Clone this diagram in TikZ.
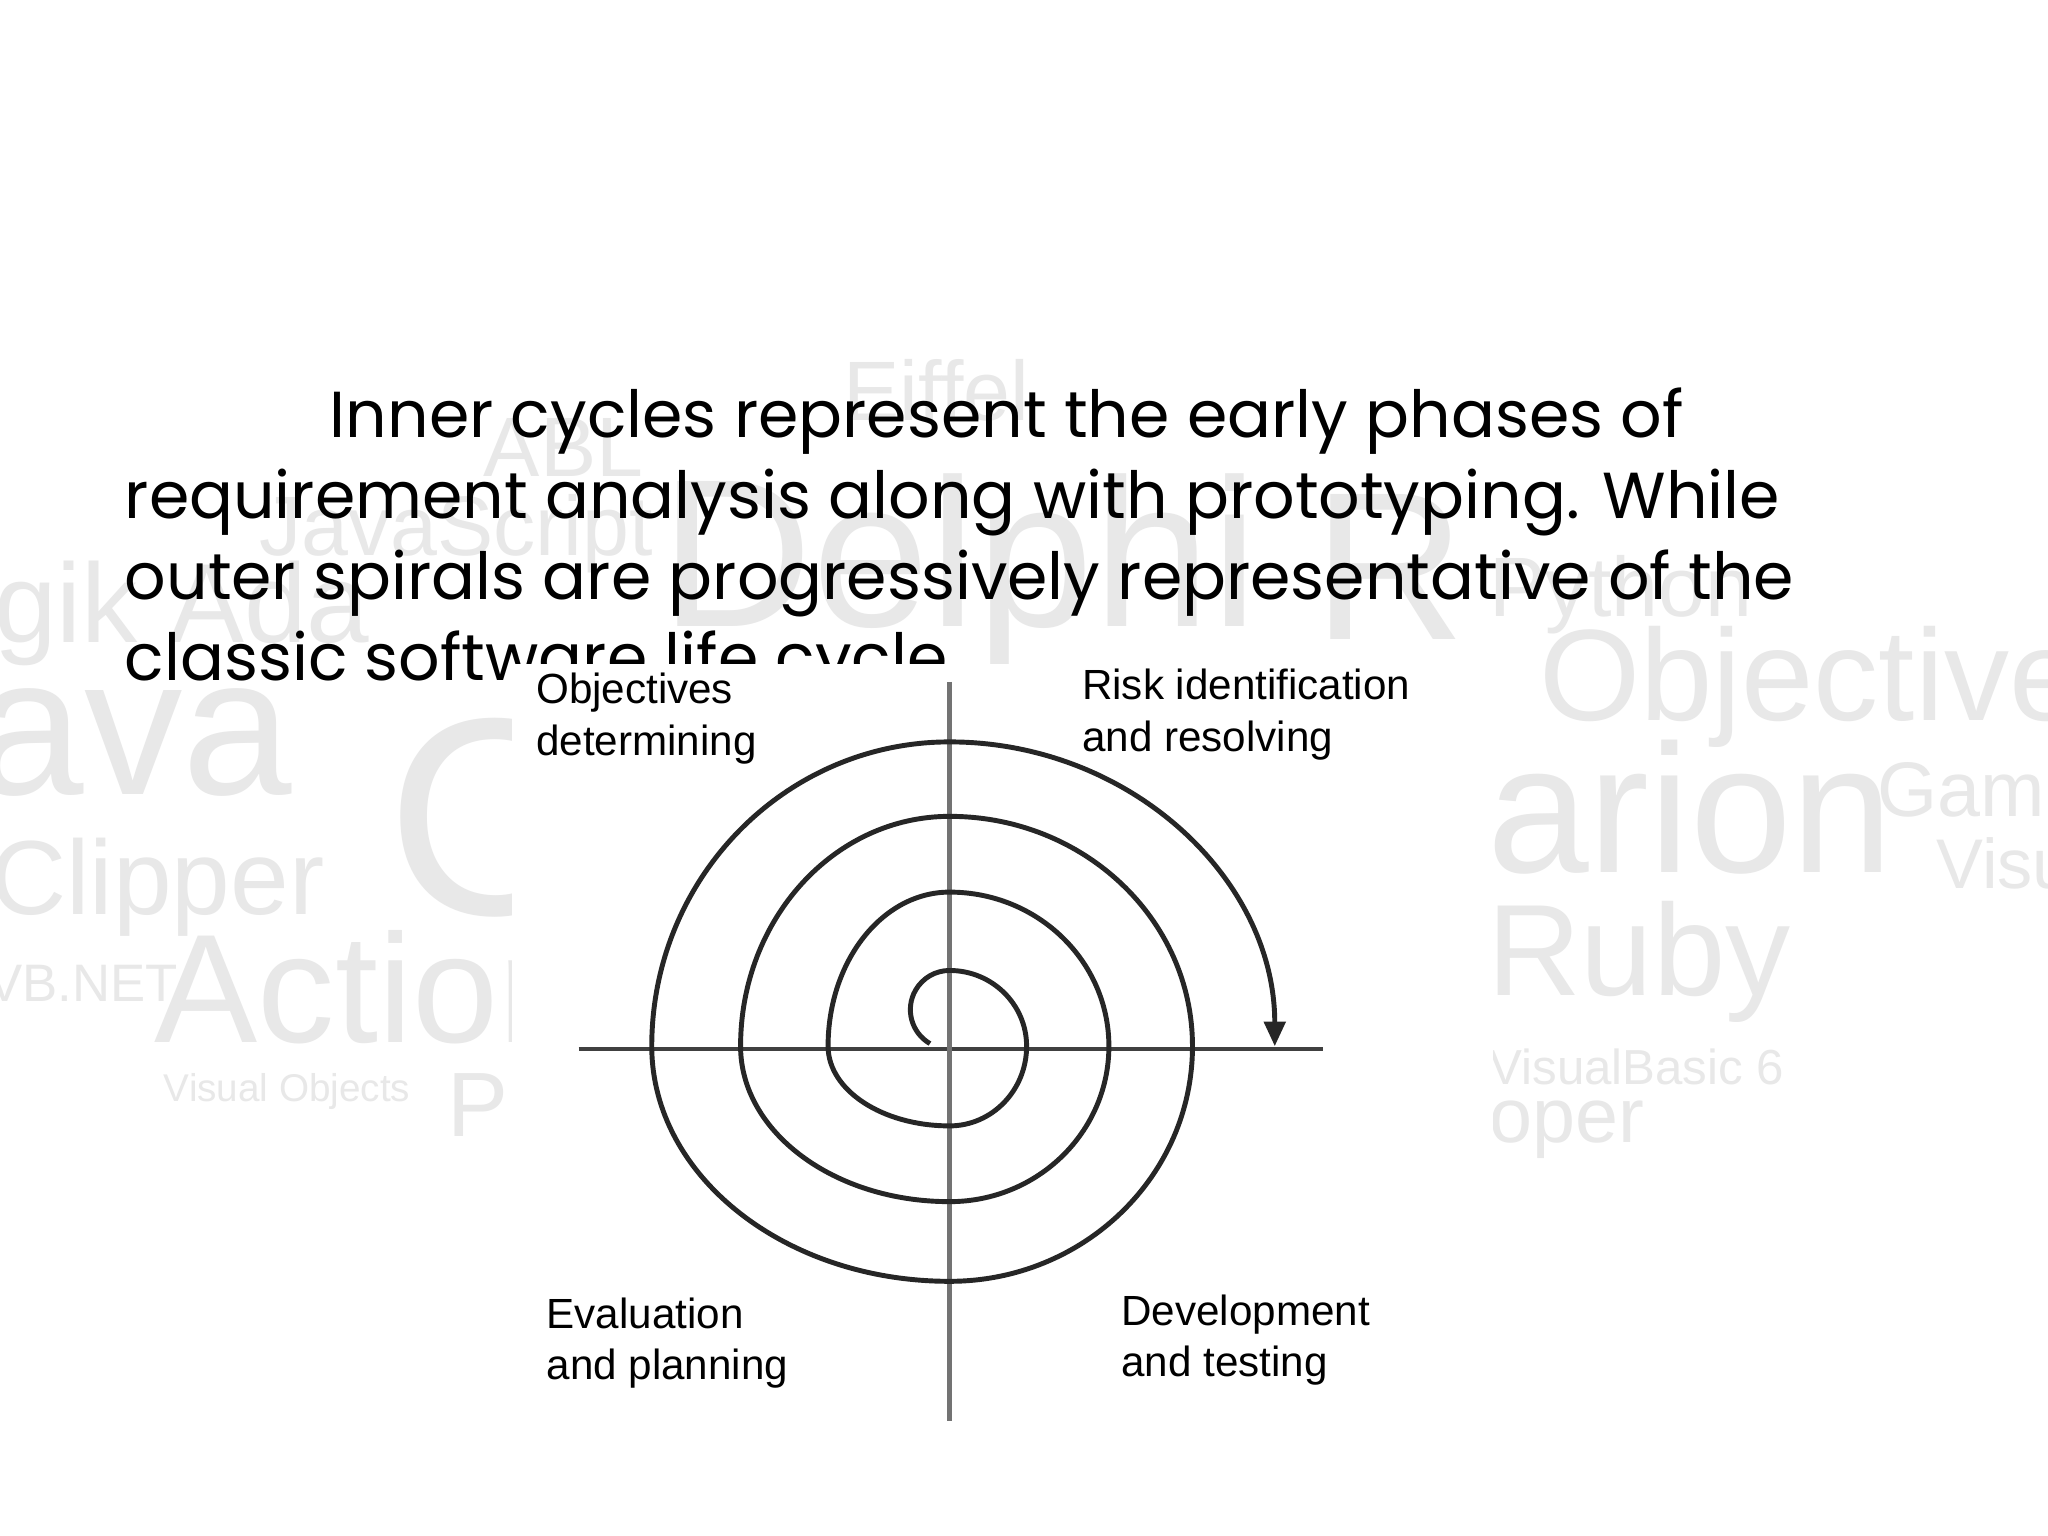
\documentclass[tikz,border=0pt]{standalone}
\usepackage{fontspec}
\setmainfont{Poppins}
\newfontfamily\wm{Liberation Sans}
\usetikzlibrary{arrows.meta}
\begin{document}
\begin{tikzpicture}[x=0.01306cm,y=-0.01306cm,
  wmark/.style={anchor=base west,inner sep=0,text=black!9,font=\wm},
  title/.style={anchor=base west,inner sep=0,font=\fontsize{18.5}{22}\selectfont},
  lbl/.style={anchor=north west,inner sep=0,align=left,font=\wm\fontsize{12}{14.6}\selectfont},
  spir/.style={line width=1.4pt,black!85}]
\def\u{0.01306cm}
\fill[white] (0,0) rectangle (1568,1176);
\useasboundingbox (0,0) rectangle (1568,1176);
% watermark
\node[wmark,font=\wm\fontsize{24}{24}\selectfont] (w1) at (645,322) {Eiffel};
\node[wmark,font=\wm\fontsize{24}{24}\selectfont] (w2) at (370,365) {ABL};
\node[wmark,font=\wm\fontsize{24}{24}\selectfont] (w3) at (198,425) {JavaScript};
\node[wmark,font=\wm\fontsize{60}{60}\selectfont] (w4) at (505,480) {Delphi};
\node[wmark,font=\wm\fontsize{60}{60}\selectfont] (w5) at (1005,490) {R};
\node[wmark,font=\wm\fontsize{24}{24}\selectfont] (w6) at (1140,472) {Python};
\node[wmark,font=\wm\fontsize{32}{32}\selectfont] (w7) at (-5,492) {gik Ada};
\node[wmark,font=\wm\fontsize{56}{56}\selectfont] (w8) at (-20,608) {ava};
\node[wmark,font=\wm\fontsize{80}{80}\selectfont] (w9) at (295,700) {C};
\node[wmark,font=\wm\fontsize{37}{37}\selectfont] (w10) at (1178,552) {Objective};
\node[wmark,font=\wm\fontsize{30}{30}\selectfont] (w11) at (-8,700) {Clipper};
\node[wmark,font=\wm\fontsize{52}{52}\selectfont] (w12) at (1138,668) {arion};
\node[wmark,font=\wm\fontsize{22}{22}\selectfont] (w13) at (1437,625) {Gam};
\node[wmark,font=\wm\fontsize{20}{20}\selectfont] (w14) at (1482,680) {Visu};
\node[wmark,font=\wm\fontsize{37}{37}\selectfont] (w15) at (1138,762) {Ruby};
\node[wmark,font=\wm\fontsize{15}{15}\selectfont] (w16) at (-10,767) {VB.NET};
\node[wmark,font=\wm\fontsize{44}{44}\selectfont] (w17) at (118,798) {Action};
\node[wmark,font=\wm\fontsize{11}{11}\selectfont] (w18) at (125,843) {Visual Objects};
\node[wmark,font=\wm\fontsize{26}{26}\selectfont] (w19) at (342,870) {P};
\node[wmark,font=\wm\fontsize{14}{14}\selectfont] (w20) at (1140,830) {VisualBasic 6};
\node[wmark,font=\wm\fontsize{22}{22}\selectfont] (w21) at (1140,875) {oper};
% title
\node[title] (t1) at (252,335) {Inner cycles represent the early phases of};
\node[title] (t2) at (95,397) {requirement analysis along with prototyping. While};
\node[title] (t3) at (95,459) {outer spirals are progressively representative of the};
\node[title] (t4) at (95,521) {classic software life cycle};
% image box
\fill[white] (392,508) rectangle (1143,1110);
% axes
\draw[line width=1.3pt,black!75] (443,803) -- (1013,803);
\draw[line width=1.3pt,black!55] (727,522) -- (727,1088);
% spiral
\begin{scope}[shift={(727,803)},x=0.01306cm,y=0.01306cm]
\coordinate (s0) at (-15,4);
\draw[spir,-{Triangle[length=7pt,width=6pt]}] (s0)
 arc[start angle=240,end angle=90,radius=30*\u]
 arc[start angle=90,end angle=0,x radius=59*\u,y radius=58*\u]
 arc[start angle=0,end angle=-90,x radius=59*\u,y radius=61*\u]
 arc[start angle=-90,end angle=-180,x radius=93*\u,y radius=61*\u]
 arc[start angle=180,end angle=90,x radius=93*\u,y radius=118*\u]
 arc[start angle=90,end angle=0,x radius=122*\u,y radius=118*\u]
 arc[start angle=0,end angle=-90,x radius=122*\u,y radius=119*\u]
 arc[start angle=-90,end angle=-180,x radius=160*\u,y radius=119*\u]
 arc[start angle=180,end angle=90,x radius=160*\u,y radius=176*\u]
 arc[start angle=90,end angle=0,x radius=186*\u,y radius=176*\u]
 arc[start angle=0,end angle=-90,x radius=186*\u,y radius=180*\u]
 arc[start angle=-90,end angle=-180,x radius=228*\u,y radius=180*\u]
 arc[start angle=180,end angle=90,x radius=228*\u,y radius=233*\u]
 arc[start angle=90,end angle=0,x radius=249*\u,y radius=233*\u];
\end{scope}
% labels
\node[lbl] (l1) at (410,515) {Objectives\\determining};
\node[lbl] (l2) at (828,512) {Risk identification\\and resolving};
\node[lbl] (l3) at (418,993) {Evaluation\\and planning};
\node[lbl] (l4) at (858,991) {Development\\and testing};
\end{tikzpicture}
\end{document}
